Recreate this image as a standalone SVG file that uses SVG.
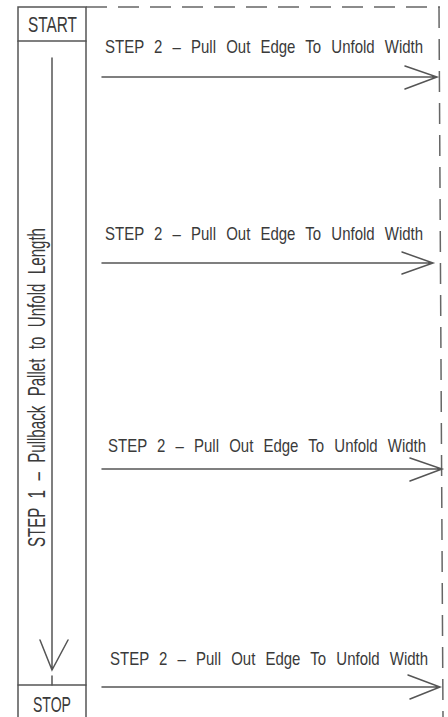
<svg xmlns="http://www.w3.org/2000/svg" width="448" height="717" viewBox="0 0 448 717">
<style>
.ln{stroke:#555;stroke-width:1.5;fill:none;stroke-linecap:round}
.dash{stroke:#666;stroke-width:1.5;fill:none;stroke-dasharray:21 11}
.t{font-family:"Liberation Sans",Arial,sans-serif;fill:#3a3a3a}
.s2{font-size:15px;word-spacing:6px}
.big{font-size:22px}
</style>
<rect width="448" height="717" fill="#fff"/>
<g id="frame">
<path class="dash" d="M86 7 H440"/>
<path class="dash" d="M439 7 L443 717"/>
</g>
<g id="start">
<path class="ln" d="M18 7 H86 V41 H18 Z"/>
<text class="t big" x="28" y="32" textLength="49" lengthAdjust="spacingAndGlyphs">START</text>
</g>
<g id="step1">
<path class="ln" d="M18 41 V685 M86 41 V685"/>
<text class="t" font-size="23" word-spacing="8" transform="translate(45,547) rotate(-90)" textLength="319" lengthAdjust="spacingAndGlyphs">STEP 1 – Pullback Pallet to Unfold Length</text>
</g>
<g id="stop">
<path class="ln" d="M18 685 H86 M18 685 V717 M86 685 V717"/>
<text class="t big" x="33" y="712" textLength="38" lengthAdjust="spacingAndGlyphs">STOP</text>
</g>
<g id="connectors">
<path class="ln" d="M52 58 V670 M40 640 L52 670 L68 640 M52 676 V685"/>
<path class="ln" d="M102 77 H437 M405 66 L437 77 L405 89"/>
<path class="ln" d="M102 263 H433 M402 252 L433 263 L402 274"/>
<path class="ln" d="M102 469 H442 M410 458 L442 469 L410 481"/>
<path class="ln" d="M102 687 H440 M408 675 L440 687 L410 699"/>
</g>
<g id="step2a"><text class="t s2" transform="translate(105,53) scale(1,1.2)">STEP 2 – Pull Out Edge To Unfold Width</text></g>
<g id="step2b"><text class="t s2" transform="translate(105,240) scale(1,1.2)">STEP 2 – Pull Out Edge To Unfold Width</text></g>
<g id="step2c"><text class="t s2" transform="translate(108,452) scale(1,1.2)">STEP 2 – Pull Out Edge To Unfold Width</text></g>
<g id="step2d"><text class="t s2" transform="translate(110,665) scale(1,1.2)">STEP 2 – Pull Out Edge To Unfold Width</text></g>
</svg>
